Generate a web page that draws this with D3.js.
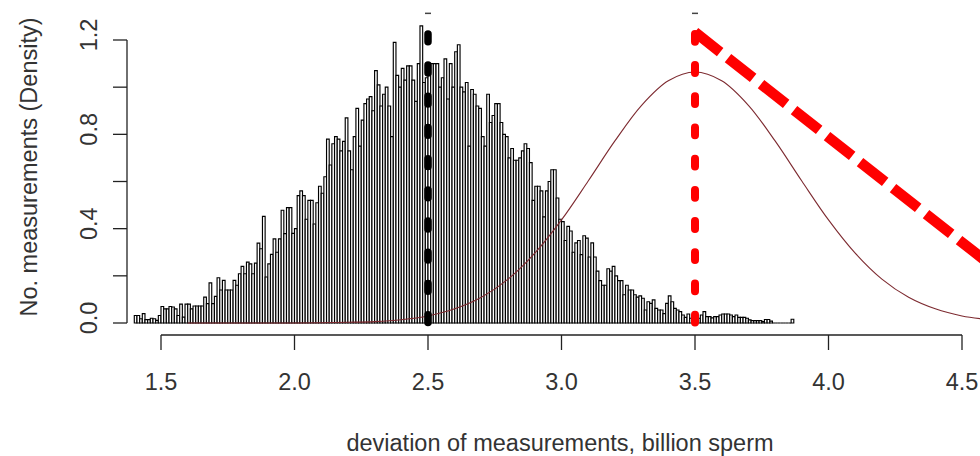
<!DOCTYPE html>
<html><head><meta charset="utf-8">
<script src="https://cdn.jsdelivr.net/npm/d3@7"></script>
<style>
body{margin:0;background:#fff}
svg{display:block}
text{font-family:"Liberation Sans",Arial,Helvetica,sans-serif;fill:#333}
</style>
</head><body>
<svg id="c" width="980" height="456"></svg>
<script>
// ---------- data ----------
const binStart = 1.40;
const binWidth = 0.01;
const densities = [
 0.032,0.032,0.018,0.040,0.014,0.014,0.020,0.018,0.011,0.032,
 0.070,0.060,0.060,0.070,0.068,0.060,0.032,0.080,0.025,0.080,
 0.080,0.060,0.072,0.072,0.072,0.072,0.110,0.082,0.170,0.082,
 0.113,0.192,0.140,0.181,0.140,0.140,0.140,0.181,0.160,0.209,
 0.240,0.209,0.258,0.251,0.209,0.254,0.339,0.315,0.452,0.195,
 0.251,0.291,0.357,0.300,0.357,0.478,0.379,0.489,0.489,0.380,
 0.400,0.540,0.560,0.540,0.440,0.520,0.520,0.420,0.510,0.580,
 0.550,0.620,0.780,0.670,0.760,0.790,0.780,0.730,0.770,0.870,
 0.730,0.650,0.790,0.910,0.750,0.860,0.930,0.950,0.960,0.900,
 1.070,1.010,0.920,0.970,1.000,0.920,0.790,1.190,1.050,1.000,
 1.080,1.030,1.090,1.090,1.030,0.940,1.100,1.260,1.020,1.040,
 1.060,1.100,1.100,1.100,1.000,1.040,1.120,0.950,1.100,1.000,
 1.150,1.180,1.000,0.980,1.020,0.750,0.990,0.970,0.920,0.910,
 0.790,0.750,0.970,0.850,0.880,0.930,0.930,0.850,0.800,0.790,
 0.700,0.740,0.690,0.690,0.700,0.730,0.760,0.740,0.680,0.520,
 0.580,0.580,0.560,0.450,0.560,0.600,0.650,0.650,0.530,0.440,
 0.430,0.350,0.410,0.390,0.300,0.340,0.350,0.290,0.370,0.360,
 0.280,0.340,0.280,0.220,0.180,0.160,0.160,0.230,0.220,0.240,
 0.200,0.180,0.180,0.120,0.160,0.140,0.140,0.120,0.110,0.115,
 0.105,0.055,0.090,0.083,0.098,0.062,0.055,0.055,0.040,0.083,
 0.115,0.090,0.062,0.055,0.048,0.034,0.024,0.038,0.020,0.025,
 0.034,0.020,0.034,0.048,0.027,0.027,0.022,0.027,0.027,0.034,
 0.038,0.038,0.038,0.034,0.027,0.034,0.024,0.024,0.024,0.020,
 0.013,0.010,0.010,0.010,0.010,0.006,0.015,0.015,0.008,0.000,
 0.000,0.000,0.000,0.000,0.000,0.000,0.016
];
const curveX = [1.6,1.7,1.8,1.9,2.0,2.1,2.2,2.3,2.4,2.5,2.6,2.7,2.8,2.9,3.0,3.1,3.2,3.3,3.4,3.5,
                3.6,3.7,3.8,3.9,4.0,4.1,4.2,4.3,4.4,4.5,4.6];
const curveY = [0.000,0.000,0.000,0.000,0.000,0.001,0.003,0.006,0.014,0.030,0.060,0.109,0.186,0.296,0.437,0.602,0.772,0.923,1.027,1.064,
                1.027,0.923,0.772,0.602,0.437,0.296,0.186,0.109,0.060,0.030,0.014];
const xTicks = [1.5,2.0,2.5,3.0,3.5,4.0,4.5];
const yTicks = [0,0.2,0.4,0.6,0.8,1.0,1.2];
const yLabels = [0,0.4,0.8,1.2];
const refLines = [2.5, 3.5];
const refTop = 1.245;
const refMark = 1.313;
const diagX = [3.5, 4.6];
const diagY = [1.233, 0.253];
const xTitle = "deviation of measurements, billion sperm";
const yTitle = "No. measurements (Density)";

// ---------- drawing ----------
const svg = d3.select("#c");
const x = d3.scaleLinear().domain([1.5, 4.5]).range([161, 962]);
const y = d3.scaleLinear().domain([0, 1.2]).range([323, 40]);

// histogram bars (paths so empty bins still show their baseline)
svg.append("g").selectAll("path").data(densities).join("path")
  .attr("d", (d,i) => {
    const x0 = x(binStart + i*binWidth), x1 = x(binStart + (i+1)*binWidth);
    return `M${x0},${y(0)}V${y(d)}H${x1}V${y(0)}Z`;
  })
  .attr("fill", "#fff").attr("stroke", "#000").attr("stroke-width", 1.15);

// density curve
svg.append("path")
  .datum(curveX.map((v,i) => [v, curveY[i]]))
  .attr("fill", "none").attr("stroke", "#7d2a30").attr("stroke-width", 1.1)
  .attr("d", d3.line().x(d => x(d[0])).y(d => y(d[1])).curve(d3.curveCatmullRom));

// vertical reference lines
const refColors = ["#000", "#f00"];
const refWidths = [7.5, 8];
refLines.forEach((v,i) => {
  svg.append("line")
    .attr("x1", x(v)).attr("x2", x(v))
    .attr("y1", y(0) - 0.5).attr("y2", y(refTop))
    .attr("stroke", refColors[i]).attr("stroke-width", refWidths[i])
    .attr("stroke-linecap", "round").attr("stroke-dasharray", "7.8 23.4");
  svg.append("line")
    .attr("x1", x(v) - 3).attr("x2", x(v) + 3)
    .attr("y1", y(refMark)).attr("y2", y(refMark))
    .attr("stroke", "#444").attr("stroke-width", 1.5);
});

// diagonal dashed line
svg.append("line")
  .attr("x1", x(diagX[0])).attr("y1", y(diagY[0]))
  .attr("x2", x(diagX[1])).attr("y2", y(diagY[1]))
  .attr("stroke", "#f00").attr("stroke-width", 10.5)
  .attr("stroke-dasharray", "32 10");

// x axis
const xa = svg.append("g").attr("stroke", "#222").attr("stroke-width", 1.3).attr("fill", "none");
xa.append("line").attr("x1", x(xTicks[0])).attr("x2", x(xTicks[xTicks.length-1])).attr("y1", 335).attr("y2", 335);
xa.selectAll("line.t").data(xTicks).join("line").attr("class","t")
  .attr("x1", d => x(d)).attr("x2", d => x(d)).attr("y1", 335).attr("y2", 350);
svg.append("g").selectAll("text").data(xTicks).join("text")
  .attr("x", d => x(d)).attr("y", 390).attr("text-anchor", "middle")
  .attr("font-size", 23.5).text(d => d.toFixed(1));

// y axis
const ya = svg.append("g").attr("stroke", "#222").attr("stroke-width", 1.3).attr("fill", "none");
ya.append("line").attr("x1", 127).attr("x2", 127).attr("y1", y(0)).attr("y2", y(1.2));
ya.selectAll("line.t").data(yTicks).join("line").attr("class","t")
  .attr("x1", 113).attr("x2", 127).attr("y1", d => y(d)).attr("y2", d => y(d));
svg.append("g").selectAll("text").data(yLabels).join("text")
  .attr("transform", d => `translate(97,${y(d) - 5}) rotate(-90)`)
  .attr("text-anchor", "middle").attr("font-size", 23.5).text(d => d.toFixed(1));

// titles
svg.append("text").attr("x", 560).attr("y", 451).attr("text-anchor", "middle")
  .attr("font-size", 23.5).text(xTitle);
svg.append("text").attr("transform", "translate(37,167) rotate(-90)")
  .attr("text-anchor", "middle").attr("font-size", 23.5).text(yTitle);
</script>
</body></html>
